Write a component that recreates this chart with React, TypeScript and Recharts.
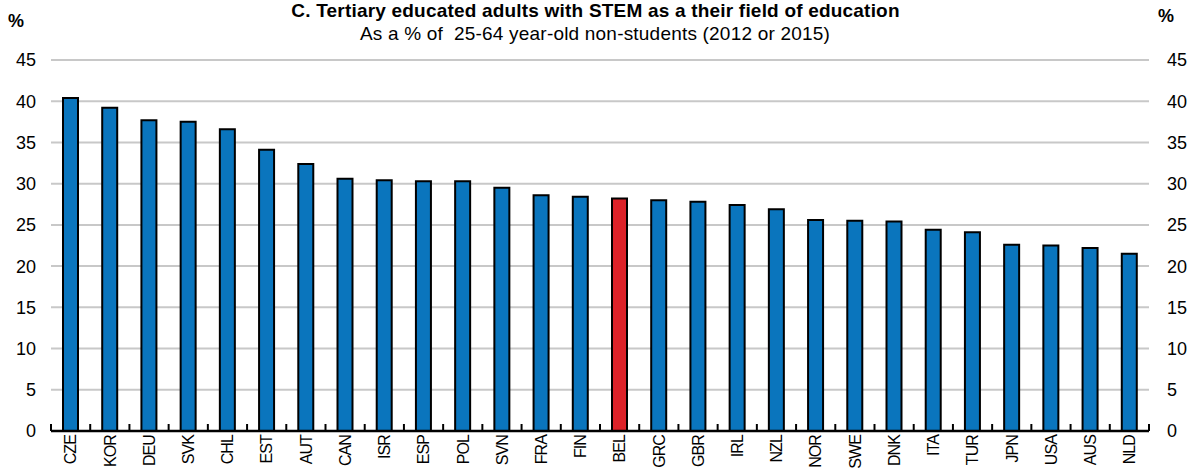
import React from "react";
import { ComposedChart, Bar, Line, XAxis, YAxis, CartesianGrid, Cell } from "recharts";

// Tertiary educated adults with STEM as field of education, % of 25-64 non-students
const countries = [
  "CZE", "KOR", "DEU", "SVK", "CHL", "EST", "AUT", "CAN", "ISR", "ESP",
  "POL", "SVN", "FRA", "FIN", "BEL", "GRC", "GBR", "IRL", "NZL", "NOR",
  "SWE", "DNK", "ITA", "TUR", "JPN", "USA", "AUS", "NLD",
];
const stemShare = [
  40.4, 39.2, 37.7, 37.5, 36.6, 34.1, 32.4, 30.6, 30.4, 30.3,
  30.3, 29.5, 28.6, 28.4, 28.2, 28.0, 27.8, 27.4, 26.9, 25.6,
  25.5, 25.4, 24.4, 24.1, 22.6, 22.5, 22.2, 21.5,
];
const yTicks = [0, 5, 10, 15, 20, 25, 30, 35, 40, 45];
const highlight = "BEL";

const FONT = "'Liberation Sans', Arial, sans-serif";
const BLUE = "#0a75bd";
const RED = "#dc2229";

const data = countries.map((c, i) => ({ country: c, value: stemShare[i] }));

// x tick: rotated label + small upward tick at band boundaries
function CountryTick(props: any) {
  const { x, y, payload, index } = props;
  const half = payload?.offset ?? 19.6;
  const axisY = y - 8;
  return (
    <g>
      <line x1={x - half} x2={x - half} y1={axisY} y2={axisY - 7} stroke="#000" strokeWidth={2} />
      {index === countries.length - 1 && (
        <line x1={x + half} x2={x + half} y1={axisY} y2={axisY - 7} stroke="#000" strokeWidth={2} />
      )}
      <text
        transform={`translate(${x}, ${axisY + 4}) rotate(-90)`}
        textAnchor="end"
        dy="0.36em"
        fontSize={16}
        fontFamily={FONT}
        letterSpacing={-0.9}
        fill="#000"
      >
        {payload.value}
      </text>
    </g>
  );
}

const tickStyle = { fontSize: 18, fill: "#000", fontFamily: FONT };

export default function App() {
  return (
    <div style={{ position: "absolute", left: 0, top: 0, width: 1197, height: 471, background: "#fff", fontFamily: FONT }}>
      <div style={{ position: "absolute", left: 0, width: 1191, top: 0, textAlign: "center", fontWeight: "bold", fontSize: 19, letterSpacing: 0.2, lineHeight: "22px" }}>
        C. Tertiary educated adults with STEM as a their field of education
      </div>
      <div style={{ position: "absolute", left: 0, width: 1190, top: 22, textAlign: "center", fontSize: 19, letterSpacing: 0.2, lineHeight: "24px", whiteSpace: "pre" }}>
        {"As a % of  25-64 year-old non-students (2012 or 2015)"}
      </div>
      <div style={{ position: "absolute", left: 8, top: 10, fontSize: 18, fontWeight: "bold", lineHeight: "22px" }}>%</div>
      <div style={{ position: "absolute", left: 1158, top: 5, fontSize: 18, fontWeight: "bold", lineHeight: "22px" }}>%</div>

      <ComposedChart
        width={1197}
        height={471}
        data={data}
        margin={{ top: 60, right: 0, left: 0, bottom: 0 }}
        barCategoryGap={0}
        style={{ position: "absolute", left: 0, top: 0 }}
      >
        <CartesianGrid vertical={false} stroke="#c8c8c8" strokeWidth={2} yAxisId="left" />
        <XAxis
          dataKey="country"
          interval={0}
          height={40}
          axisLine={{ stroke: "#000", strokeWidth: 2.5 }}
          tickLine={false}
          tickSize={0}
          tickMargin={8}
          tick={<CountryTick />}
        />
        <YAxis
          yAxisId="left"
          orientation="left"
          width={51}
          domain={[0, 45]}
          ticks={yTicks}
          axisLine={false}
          tickLine={false}
          tickSize={0}
          tickMargin={15}
          tick={tickStyle}
        />
        <YAxis
          yAxisId="right"
          orientation="right"
          width={48}
          domain={[0, 45]}
          ticks={yTicks}
          axisLine={false}
          tickLine={false}
          tickSize={0}
          tickMargin={18}
          tick={{ ...tickStyle, textAnchor: "start" }}
        />
        <Bar yAxisId="left" dataKey="value" barSize={15} stroke="#000" strokeWidth={2} isAnimationActive={false}>
          {data.map((d) => (
            <Cell key={d.country} fill={d.country === highlight ? RED : BLUE} />
          ))}
        </Bar>
        {/* invisible series so the right-hand axis is drawn */}
        <Line yAxisId="right" dataKey="value" stroke="none" dot={false} activeDot={false} legendType="none" isAnimationActive={false} />
      </ComposedChart>
    </div>
  );
}
